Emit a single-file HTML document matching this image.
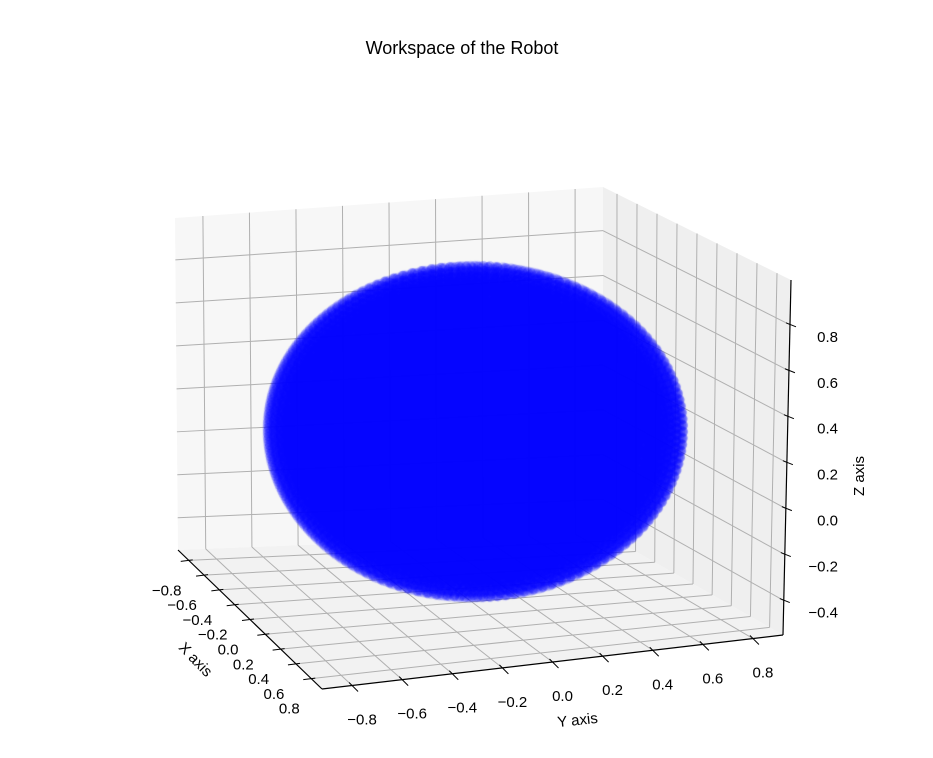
<!DOCTYPE html>
<html>
<head>
<meta charset="utf-8">
<style>
  html,body{margin:0;padding:0;background:#fff;}
  #wrap{position:relative;width:933px;height:758px;overflow:hidden;font-family:"Liberation Sans","DejaVu Sans",sans-serif;}
  svg,canvas{position:absolute;left:0;top:0;}
</style>
</head>
<body>
<div id="wrap">
<svg id="bg" width="933" height="758"></svg>
<canvas id="cv" width="933" height="758"></canvas>
<svg id="fg" width="933" height="758">
  <text x="462" y="54" text-anchor="middle" font-size="18" fill="#000">Workspace of the Robot</text>
</svg>
</div>
<script>
// ---- data ----
const xTicks = [-0.8,-0.6,-0.4,-0.2,0.0,0.2,0.4,0.6,0.8];
const yTicks = [-0.8,-0.6,-0.4,-0.2,0.0,0.2,0.4,0.6,0.8];
const zTicks = [-0.4,-0.2,0.0,0.2,0.4,0.6,0.8];
const xRange = [-0.94, 0.94];
const yRange = [-0.92, 0.92];
const zRange = [-0.55, 0.995];
const cloudCenter = [0.0, 0.0, 0.207];
const cloudRadii = [0.81, 0.81, 0.70];
const shellFractions = [0.1,0.15,0.2,0.25,0.3,0.35,0.4,0.45,0.5,0.55,0.6,0.65,0.7,0.75,0.8,0.85,0.88,0.91,0.94,0.97,1.0];

// ---- projection (screen corners of the axis box) ----
const C = {
  '001':[175,218],'011':[603,187],'111':[791,280],'101':[331,324],
  '000':[178,550],'010':[603,533],'110':[783,635],'100':[322,689]
};
function P(x,y,z){
  const u=(x-xRange[0])/(xRange[1]-xRange[0]);
  const v=(y-yRange[0])/(yRange[1]-yRange[0]);
  const w=(z-zRange[0])/(zRange[1]-zRange[0]);
  let sx=0, sy=0;
  for(const a of [0,1])for(const b of [0,1])for(const c of [0,1]){
    const wt=(a?u:1-u)*(b?v:1-v)*(c?w:1-w);
    const p=C[''+a+b+c]; sx+=wt*p[0]; sy+=wt*p[1];
  }
  return [sx,sy];
}
const NS='http://www.w3.org/2000/svg';
const bg=document.getElementById('bg'), fg=document.getElementById('fg');
function mk(parent,tag,attrs){const e=document.createElementNS(NS,tag);for(const k in attrs)e.setAttribute(k,attrs[k]);parent.appendChild(e);return e;}
function poly(pts){return pts.map(p=>p[0].toFixed(1)+','+p[1].toFixed(1)).join(' ');}
const [X0,X1]=xRange,[Y0,Y1]=yRange,[Z0,Z1]=zRange;

// panes
let e;
e=mk(bg,'polygon',{points:poly([P(X0,Y0,Z0),P(X0,Y1,Z0),P(X0,Y1,Z1),P(X0,Y0,Z1)]),fill:'#f7f7f7'});


e=mk(bg,'polygon',{points:poly([P(X0,Y1,Z0),P(X1,Y1,Z0),P(X1,Y1,Z1),P(X0,Y1,Z1)]),fill:'#efefef'});


e=mk(bg,'polygon',{points:poly([P(X0,Y0,Z0),P(X1,Y0,Z0),P(X1,Y1,Z0),P(X0,Y1,Z0)]),fill:'#f2f2f2'});



function line(parent,a,b,stroke,sw,name){
  const l=mk(parent,'line',{x1:a[0],y1:a[1],x2:b[0],y2:b[1],stroke:stroke,'stroke-width':sw});
  
  
  return l;
}
const GC='#b0b0b0';
yTicks.forEach(y=>{line(bg,P(X0,y,Z0),P(X0,y,Z1),GC,1,'grid-back-y');line(bg,P(X0,y,Z0),P(X1,y,Z0),GC,1,'grid-floor-y');});
zTicks.forEach(z=>{line(bg,P(X0,Y0,z),P(X0,Y1,z),GC,1,'grid-back-z');line(bg,P(X0,Y1,z),P(X1,Y1,z),GC,1,'grid-right-z');});
xTicks.forEach(x=>{line(bg,P(x,Y1,Z0),P(x,Y1,Z1),GC,1,'grid-right-x');line(bg,P(x,Y0,Z0),P(x,Y1,Z0),GC,1,'grid-floor-x');});

// scatter cloud
const ctx=document.getElementById('cv').getContext('2d');
ctx.fillStyle='rgba(0,0,255,0.16)';
const GA=Math.PI*(3-Math.sqrt(5));
shellFractions.forEach(f=>{
  const n=Math.round(6000*f*f);
  for(let i=0;i<n;i++){
    const zz=1-2*(i+0.5)/n, r=Math.sqrt(1-zz*zz), ph=i*GA;
    const x=cloudCenter[0]+cloudRadii[0]*f*r*Math.cos(ph);
    const y=cloudCenter[1]+cloudRadii[1]*f*r*Math.sin(ph);
    const z=cloudCenter[2]+cloudRadii[2]*f*zz;
    const p=P(x,y,z);
    ctx.beginPath();ctx.arc(p[0],p[1],4.8,0,Math.PI*2);ctx.fill();
  }
});

// axes lines
line(fg,P(X0,Y0,Z0),P(X1,Y0,Z0),'#000',1.2,'x-axis-line');
line(fg,P(X1,Y0,Z0),P(X1,Y1,Z0),'#000',1.2,'y-axis-line');
line(fg,P(X1,Y1,Z0),P(X1,Y1,Z1),'#000',1.2,'z-axis-line');

function txt(x,y,s,anchor,name,extra){
  const t=mk(fg,'text',Object.assign({x:x,y:y,'text-anchor':anchor,'font-size':15,fill:'#000'},extra||{}));
  t.textContent=s;
  
  
  return t;
}
function fmt(v){return (v<0?'\u2212':'')+Math.abs(v).toFixed(1);}
xTicks.forEach(x=>{
  const p=P(x,Y0,Z0);
  line(fg,[p[0]+4,p[1]-0.5],[p[0]-8,p[1]+1],'#000',1,'x-tick');
  txt(p[0]-22,p[1]+35,fmt(x),'middle','x-tick-label');
});
yTicks.forEach(y=>{
  const p=P(X1,y,Z0);
  line(fg,[p[0]-3,p[1]-3],[p[0]+6,p[1]+6],'#000',1,'y-tick');
  txt(p[0]+10,p[1]+39,fmt(y),'middle','y-tick-label');
});
zTicks.forEach(z=>{
  const p=P(X1,Y1,z);
  line(fg,[p[0]-4,p[1]-2],[p[0]+6,p[1]+2],'#000',1,'z-tick');
  txt(838,p[1]+17,fmt(z),'end','z-tick-label');
});
txt(0,0,'X axis','middle','x-axis-title',{transform:'translate(192,663) rotate(46)'});
txt(0,0,'Y axis','middle','y-axis-title',{transform:'translate(578,725) rotate(-6)'});
txt(0,0,'Z axis','middle','z-axis-title',{transform:'translate(864,476) rotate(-90)'});
</script>
</body>
</html>
